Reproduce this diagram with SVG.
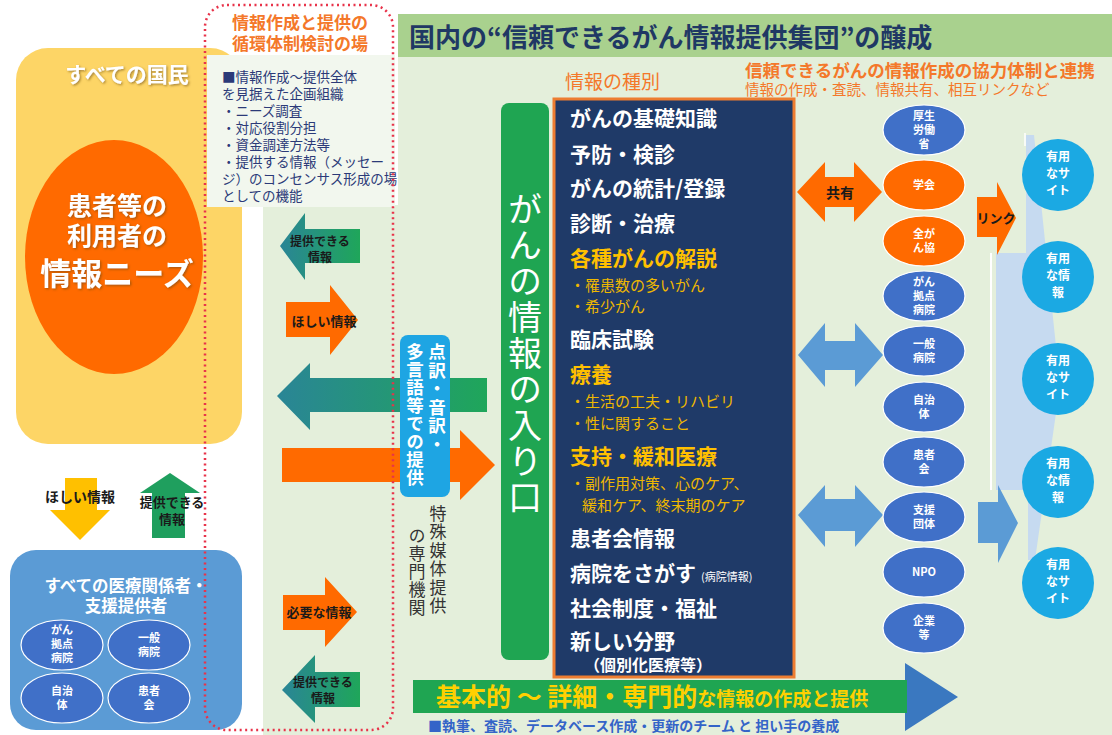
<svg xmlns="http://www.w3.org/2000/svg" width="1112" height="735" viewBox="0 0 1112 735">
<defs>
<style>
text{font-family:"Noto Sans CJK JP","Noto Sans",sans-serif}
.b{font-weight:700}
.w{fill:#fff}
.nav{fill:#2b3a78}
.item{font-size:21px;font-weight:700;fill:#fff}
.yl{font-size:21px;font-weight:700;fill:#ffc000}
.sub{font-size:15px;fill:#efb800}
.ell{fill:#4070c8;stroke:#fff;stroke-width:1.2}
.ello{fill:#ff6a00;stroke:#fff;stroke-width:1.2}
.et{font-size:11px;font-weight:700;fill:#fff;text-anchor:middle}
.cy{fill:#1ba9e3}
.ct{font-size:12px;font-weight:700;fill:#fff;text-anchor:middle}
.org{fill:#ff6a00}
.grn{fill:url(#gg)}
.lb{fill:#5b9bd5}
.lab{font-size:12px;font-weight:700;fill:#1a1a1a;text-anchor:middle}
.vt{writing-mode:vertical-rl}
</style>
<linearGradient id="gg" x1="0" y1="0" x2="1" y2="0">
<stop offset="0" stop-color="#2a8596"/>
<stop offset="1" stop-color="#1fa65a"/>
</linearGradient>
<filter id="sh" x="-10%" y="-10%" width="130%" height="130%">
<feDropShadow dx="1.2" dy="1.2" stdDeviation="0.8" flood-color="#6b4a10" flood-opacity="0.6"/>
</filter>
</defs>

<rect width="1112" height="735" fill="#fff"/>

<!-- backgrounds -->
<g id="backgrounds">
<rect x="398" y="57" width="714" height="678" fill="#e4efdb"/>
<rect x="263" y="205" width="140" height="530" fill="#e4efdb"/>
<rect x="398" y="14" width="714" height="43" fill="#a9d18e"/>
<polygon points="1026,135 1034,135 1060,385 1035,560 1028,560 1028,490 996,490 996,253 1026,253" fill="#c6daf0"/>
<line x1="991" y1="253" x2="991" y2="490" stroke="#fff" stroke-width="2"/>
<line x1="1025" y1="133" x2="1025" y2="146" stroke="#fff" stroke-width="1.5"/>
</g>

<!-- all citizens -->
<g id="node-citizens">
<rect x="16" y="48" width="226" height="396" rx="32" fill="#fdd566"/>
<text x="127" y="82" class="b w" style="font-size:21px" text-anchor="middle" filter="url(#sh)">すべての国民</text>
<ellipse cx="114" cy="257" rx="89" ry="117" fill="#ff6a00"/>
<text x="117" y="215" class="b w" style="font-size:25px" text-anchor="middle" filter="url(#sh)">患者等の</text>
<text x="117" y="245" class="b w" style="font-size:25px" text-anchor="middle" filter="url(#sh)">利用者の</text>
<text x="117" y="285" class="b w" style="font-size:31px" text-anchor="middle" filter="url(#sh)">情報ニーズ</text>
</g>

<!-- planning panel -->
<g id="node-planning">
<rect x="207" y="55" width="188" height="152" fill="#f2f7ee"/>
<text x="300" y="29" class="b" style="font-size:17px" fill="#f4782a" text-anchor="middle">情報作成と提供の</text>
<text x="300" y="50" class="b" style="font-size:17px" fill="#f4782a" text-anchor="middle">循環体制検討の場</text>
<g class="nav" style="font-size:13.5px">
<text x="222" y="82">■情報作成～提供全体</text>
<text x="222" y="99">を見据えた企画組織</text>
<text x="222" y="116">・ニーズ調査</text>
<text x="222" y="133">・対応役割分担</text>
<text x="222" y="150">・資金調達方法等</text>
<text x="222" y="167">・提供する情報（メッセー</text>
<text x="222" y="184">ジ）のコンセンサス形成の場</text>
<text x="222" y="201">としての機能</text>
</g>
</g>

<!-- medical providers -->
<g id="node-providers">
<rect x="10" y="550" width="232" height="180" rx="26" fill="#5b9bd5"/>
<text x="126" y="592" class="b w" style="font-size:16.5px" text-anchor="middle">すべての医療関係者・</text>
<text x="126" y="612" class="b w" style="font-size:16.5px" text-anchor="middle">支援提供者</text>
<ellipse cx="62" cy="645" rx="41" ry="25" class="ell"/>
<text x="62" y="634" class="et">がん</text><text x="62" y="648" class="et">拠点</text><text x="62" y="662" class="et">病院</text>
<ellipse cx="149" cy="645" rx="41" ry="25" class="ell"/>
<text x="149" y="642" class="et">一般</text><text x="149" y="656" class="et">病院</text>
<ellipse cx="62" cy="698" rx="41" ry="25" class="ell"/>
<text x="62" y="695" class="et">自治</text><text x="62" y="709" class="et">体</text>
<ellipse cx="149" cy="698" rx="41" ry="25" class="ell"/>
<text x="149" y="695" class="et">患者</text><text x="149" y="709" class="et">会</text>
</g>

<!-- header -->
<g id="node-header">
<text x="409" y="47" class="b" style="font-size:26px" fill="#1f3864">国内の“信頼できるがん情報提供集団”の醸成</text>
<text x="565" y="89" style="font-size:19px" fill="#f4782a">情報の種別</text>
<text x="745" y="77" class="b" style="font-size:17.5px" fill="#f4782a">信頼できるがんの情報作成の協力体制と連携</text>
<text x="745" y="95" style="font-size:14.5px" fill="#f4782a">情報の作成・査読、情報共有、相互リンクなど</text>
</g>

<!-- connectors (block arrows) -->
<g id="connectors">
<polygon class="grn" points="280,246 305,213 305,229 360,229 360,263 305,263 305,280"/>
<polygon class="org" points="286,302 330,302 330,285 358,320 330,355 330,337 286,337"/>
<polygon class="grn" points="277,396 310,363 310,378 487,378 487,412 310,412 310,430"/>
<polygon class="org" points="282,448 460,448 460,430 495,465 460,500 460,482 282,482"/>
<polygon class="org" points="283,595 325,595 325,577 357,612 325,647 325,630 283,630"/>
<polygon class="grn" points="282,690 315,655 315,672 360,672 360,707 315,707 315,723"/>
<polygon fill="#ffc000" points="65,478 97,478 97,510 110,510 80,540 50,510 65,510"/>
<polygon fill="#1f9f5e" points="170,473 200,493 185,493 185,538 152,538 152,493 140,493"/>
<polygon class="org" points="797,192 825,162 825,177 854,177 854,162 882,192 854,222 854,207 825,207 825,222"/>
<polygon class="lb" points="798,355 825,323 825,341 855,341 855,323 883,355 855,387 855,370 825,370 825,387"/>
<polygon class="lb" points="798,515 825,485 825,499 855,499 855,485 883,515 855,547 855,531 825,531 825,547"/>
<polygon class="org" points="977,197 997,197 997,182 1016,218 997,255 997,237 977,237"/>
<polygon class="lb" points="978,502 998,502 998,485 1018,523 998,563 998,543 978,543"/>
<polygon fill="#3a78c0" points="415,683 905,683 905,663 958,697 905,731 905,713 415,713"/>
<text x="320" y="246" class="lab">提供できる</text>
<text x="320" y="262" class="lab">情報</text>
<text x="324" y="326" class="lab" style="font-size:13px">ほしい情報</text>
<text x="319" y="617" class="lab" style="font-size:13px">必要な情報</text>
<text x="323" y="687" class="lab">提供できる</text>
<text x="323" y="703" class="lab">情報</text>
<text x="80" y="502" class="lab" style="font-size:14px">ほしい情報</text>
<text x="172" y="507" class="lab" style="font-size:13px">提供できる</text>
<text x="172" y="524" class="lab" style="font-size:13px">情報</text>
<text x="840" y="198" class="lab" style="font-size:14px">共有</text>
<text x="996" y="223" class="lab" style="font-size:13px">リンク</text>
</g>

<!-- special media -->
<g id="node-special-media">
<rect x="400" y="335" width="50" height="162" rx="8" fill="#1ea5e3"/>
<text x="437" y="343" class="vt b w" style="font-size:17.5px" letter-spacing="1">点訳・音訳・</text>
<text x="415" y="343" class="vt b w" style="font-size:17.5px" letter-spacing="0.5">多言語等での提供</text>
<text x="438" y="505" class="vt" style="font-size:17px" fill="#333" letter-spacing="1.5">特殊媒体提供</text>
<text x="417" y="527" class="vt" style="font-size:17px" fill="#333" letter-spacing="1">の専門機関</text>
</g>

<!-- entrance -->
<g id="node-entrance">
<rect x="501" y="103" width="48" height="557" rx="8" fill="#1fa552"/>
<text x="525" y="192" class="vt w" style="font-size:34px" letter-spacing="2">がんの情報の入り口</text>
</g>

<!-- info types -->
<g id="node-info-types">
<rect x="554" y="99" width="240" height="578" fill="#1f3a68" stroke="#ed7d31" stroke-width="3"/>
<text x="570" y="126" class="item">がんの基礎知識</text>
<text x="570" y="162" class="item">予防・検診</text>
<text x="570" y="196" class="item">がんの統計/登録</text>
<text x="570" y="231" class="item">診断・治療</text>
<text x="570" y="266" class="yl">各種がんの解説</text>
<text x="570" y="291" class="sub">・罹患数の多いがん</text>
<text x="570" y="312" class="sub">・希少がん</text>
<text x="570" y="347" class="item">臨床試験</text>
<text x="570" y="382" class="yl">療養</text>
<text x="570" y="407" class="sub">・生活の工夫・リハビリ</text>
<text x="570" y="429" class="sub">・性に関すること</text>
<text x="570" y="464" class="yl">支持・緩和医療</text>
<text x="570" y="489" class="sub">・副作用対策、心のケア、</text>
<text x="582" y="511" class="sub">緩和ケア、終末期のケア</text>
<text x="570" y="546" class="item">患者会情報</text>
<text x="570" y="581" class="item">病院をさがす<tspan style="font-size:11px;font-weight:400" dx="5">(病院情報)</tspan></text>
<text x="570" y="616" class="item">社会制度・福祉</text>
<text x="570" y="649" class="item">新しい分野</text>
<text x="584" y="671" class="item" style="font-size:16px">（個別化医療等）</text>
</g>

<!-- organizations -->
<g id="node-mhlw"><ellipse cx="924" cy="130" rx="41" ry="25" class="ell"/><text x="924" y="120" class="et">厚生</text><text x="924" y="134" class="et">労働</text><text x="924" y="148" class="et">省</text></g>
<g id="node-gakkai"><ellipse cx="924" cy="185" rx="41" ry="25" class="ello"/><text x="924" y="189" class="et">学会</text></g>
<g id="node-zengankyo"><ellipse cx="924" cy="241" rx="41" ry="25" class="ello"/><text x="924" y="238" class="et">全が</text><text x="924" y="252" class="et">ん協</text></g>
<g id="node-kyoten"><ellipse cx="924" cy="296" rx="41" ry="25" class="ell"/><text x="924" y="286" class="et">がん</text><text x="924" y="300" class="et">拠点</text><text x="924" y="314" class="et">病院</text></g>
<g id="node-ippan"><ellipse cx="924" cy="351" rx="41" ry="25" class="ell"/><text x="924" y="348" class="et">一般</text><text x="924" y="362" class="et">病院</text></g>
<g id="node-jichitai"><ellipse cx="924" cy="407" rx="41" ry="25" class="ell"/><text x="924" y="404" class="et">自治</text><text x="924" y="418" class="et">体</text></g>
<g id="node-kanjakai"><ellipse cx="924" cy="462" rx="41" ry="25" class="ell"/><text x="924" y="459" class="et">患者</text><text x="924" y="473" class="et">会</text></g>
<g id="node-shien"><ellipse cx="924" cy="517" rx="41" ry="25" class="ell"/><text x="924" y="514" class="et">支援</text><text x="924" y="528" class="et">団体</text></g>
<g id="node-npo"><ellipse cx="924" cy="572" rx="41" ry="25" class="ell"/><text x="924" y="576" class="et">NPO</text></g>
<g id="node-kigyo"><ellipse cx="924" cy="628" rx="41" ry="25" class="ell"/><text x="924" y="625" class="et">企業</text><text x="924" y="639" class="et">等</text></g>

<!-- useful sites -->
<g id="node-site1"><circle cx="1058" cy="175" r="36" class="cy"/><text x="1058" y="161" class="ct">有用</text><text x="1058" y="178" class="ct">なサ</text><text x="1058" y="195" class="ct">イト</text></g>
<g id="node-site2"><circle cx="1058" cy="277" r="36" class="cy"/><text x="1058" y="263" class="ct">有用</text><text x="1058" y="280" class="ct">な情</text><text x="1058" y="297" class="ct">報</text></g>
<g id="node-site3"><circle cx="1058" cy="379" r="36" class="cy"/><text x="1058" y="365" class="ct">有用</text><text x="1058" y="382" class="ct">なサ</text><text x="1058" y="399" class="ct">イト</text></g>
<g id="node-site4"><circle cx="1058" cy="482" r="36" class="cy"/><text x="1058" y="468" class="ct">有用</text><text x="1058" y="485" class="ct">な情</text><text x="1058" y="502" class="ct">報</text></g>
<g id="node-site5"><circle cx="1058" cy="583" r="36" class="cy"/><text x="1058" y="569" class="ct">有用</text><text x="1058" y="586" class="ct">なサ</text><text x="1058" y="603" class="ct">イト</text></g>

<!-- bottom band -->
<g id="node-bottom">
<rect x="413" y="680" width="494" height="33" fill="#1fa552"/>
<text x="436" y="706" class="b" fill="#ffd000" style="font-size:25px">基本的 ～ 詳細・専門的<tspan style="font-size:19px">な情報の作成と提供</tspan></text>
<text x="428" y="731" class="b" style="font-size:14px" fill="#3464c8">■執筆、査読、データベース作成・更新のチーム と 担い手の養成</text>
</g>

<!-- dotted frame -->
<g id="node-frame">
<rect x="205" y="5" width="188" height="725" rx="22" fill="none" stroke="#e8334a" stroke-width="2.5" stroke-dasharray="2 3.5"/>
</g>
</svg>
